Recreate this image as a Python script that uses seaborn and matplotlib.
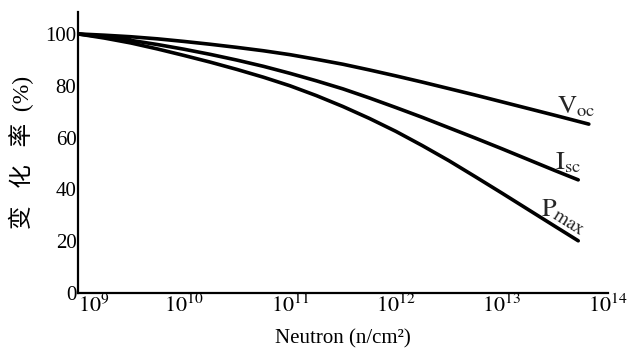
import numpy as np
import pandas as pd
import matplotlib
matplotlib.use("Agg")
import matplotlib.pyplot as plt
import seaborn as sns

# ---- data ----
flux_exp = [9.0, 9.25, 9.5, 9.75, 10.0, 10.25, 10.5, 10.75, 11.0, 11.25, 11.5,
            11.75, 12.0, 12.25, 12.5, 12.75, 13.0, 13.25, 13.5]
voc_val = [100, 99.5, 98.9, 98.1, 97.1, 96.0, 94.8, 93.5, 92.0, 90.2, 88.3,
           86.1, 83.8, 81.4, 78.9, 76.4, 73.8, 71.2, 68.6]
isc_val = [100, 98.8, 97.5, 95.9, 94.1, 92.1, 89.9, 87.5, 84.8, 81.9, 78.8,
           75.3, 71.6, 67.8, 63.8, 59.8, 55.7, 51.5, 47.3]
pmax_val = [100, 98.4, 96.5, 94.2, 91.7, 89.1, 86.3, 83.3, 80.0, 76.2, 72.0,
            67.4, 62.4, 56.9, 51.1, 44.9, 38.6, 32.2, 25.8]
voc_end_exp, voc_end_val = 13.82, 65.2
isc_end_exp, isc_end_val = 13.72, 43.7
pmax_end_exp, pmax_end_val = 13.72, 20.2

x_tick_exp = [9, 10, 11, 12, 13, 14]
y_ticks = [0, 20, 40, 60, 80, 100]
x_title = "Neutron (n/cm²)"
y_title = "变   化   率  (%)"

frames = []
for name, vals, ee, ev in [("Voc", voc_val, voc_end_exp, voc_end_val),
                           ("Isc", isc_val, isc_end_exp, isc_end_val),
                           ("Pmax", pmax_val, pmax_end_exp, pmax_end_val)]:
    ex = list(flux_exp) + [ee]
    vv = list(vals) + [ev]
    frames.append(pd.DataFrame({"flux": np.power(10.0, ex), "rate": vv, "series": name}))
df = pd.concat(frames, ignore_index=True)

sns.set_theme(style="white")
plt.rcParams["font.family"] = ["Liberation Serif", "Noto Sans CJK SC", "DejaVu Sans"]
plt.rcParams["mathtext.fontset"] = "stix"

fig = plt.figure(figsize=(6.28, 3.49), dpi=100)
ax = fig.add_axes([0.124, 0.160, 0.844, 0.806])

sns.lineplot(data=df, x="flux", y="rate", hue="series",
             palette={"Voc": "black", "Isc": "black", "Pmax": "black"},
             legend=False, linewidth=2.6, sort=False, estimator=None, ax=ax)
for ln in ax.get_lines():
    ln.set_solid_joinstyle("round")
    ln.set_solid_capstyle("round")

# dark stippled wedge where the curves converge near 10^9
wedge_x = np.power(10.0, flux_exp[:3])
ax.fill_between(wedge_x, voc_val[:3], pmax_val[:3], color="#1a1a1a", linewidth=0)

ax.set_xscale("log")
ax.set_xlim(1e9, 1e14)
ax.set_ylim(0, 108.5)
ax.minorticks_off()
ax.set_xticks([10.0 ** e for e in x_tick_exp])
ax.set_xticklabels([r"$10^{%d}$" % e for e in x_tick_exp], fontsize=16)
ax.set_yticks(y_ticks)
ax.set_yticklabels([str(v) for v in y_ticks], fontsize=15)
ax.tick_params(axis="both", which="major", direction="in", length=11, width=1.0,
               color="black", labelcolor="black")
ax.tick_params(axis="y", pad=1)
ax.tick_params(axis="x", pad=1)
ax.get_xticklabels()[0].set_ha("left")

for s in ["top", "right"]:
    ax.spines[s].set_visible(False)
for s in ["left", "bottom"]:
    ax.spines[s].set_color("black")
    ax.spines[s].set_linewidth(1.6)

ax.set_xlabel(x_title, fontsize=15, color="black", labelpad=9)
ax.set_ylabel(y_title, fontsize=17, color="black", labelpad=8)

ax.text(10 ** 13.70, 72.0, r"$\mathrm{V}_{\mathrm{oc}}$", fontsize=19, ha="center", va="center")
ax.text(10 ** 13.62, 50.5, r"$\mathrm{I}_{\mathrm{sc}}$", fontsize=19, ha="center", va="center")
ax.text(10 ** 13.45, 32.0, r"$\mathrm{P}$", fontsize=19, ha="center", va="center")
ax.text(10 ** 13.63, 27.0, r"$\mathrm{max}$", fontsize=14, ha="center", va="center", rotation=-32)

fig.savefig("out.png", dpi=100)
